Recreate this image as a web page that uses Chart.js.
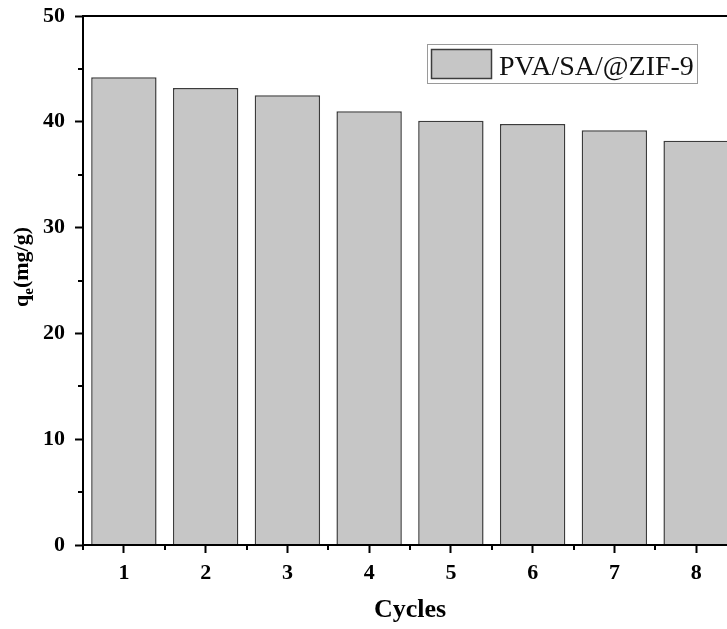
<!DOCTYPE html>
<html>
<head>
<meta charset="utf-8">
<script src="https://cdn.jsdelivr.net/npm/chart.js@4/dist/chart.umd.min.js"></script>
<style>
  html, body { margin: 0; padding: 0; background: #fff; overflow: hidden; }
  #wrap { width: 760px; height: 629px; }
</style>
</head>
<body>
<div id="wrap"><canvas id="c" width="760" height="629"></canvas></div>
<script>
// Adsorption capacity over repeated regeneration cycles
const cycles = ['1', '2', '3', '4', '5', '6', '7', '8'];
const qe = [44.2, 43.2, 42.5, 41.0, 40.1, 39.8, 39.2, 38.2];
const seriesName = 'PVA/SA/@ZIF-9';
const yTicks = [0, 10, 20, 30, 40, 50];

const SERIF = '"Liberation Serif", "Times New Roman", serif';
const BAR_FILL = '#c6c6c6';
const BAR_EDGE = '#3c3c3c';

// Frame line on top, minor ticks, axis titles and the boxed legend
const decorations = {
  id: 'decorations',
  afterDraw(chart) {
    const { ctx, chartArea: a, scales } = chart;
    const x = scales.x, y = scales.y;
    ctx.save();
    ctx.strokeStyle = '#000';
    ctx.lineWidth = 2;

    // top frame line
    ctx.beginPath();
    ctx.moveTo(a.left - 1, a.top);
    ctx.lineTo(a.right, a.top);
    ctx.stroke();

    // redraw bottom axis over the bars
    ctx.beginPath();
    ctx.moveTo(a.left - 1, a.bottom);
    ctx.lineTo(a.right, a.bottom);
    ctx.stroke();

    // y minor ticks halfway between labelled ticks
    for (let i = 0; i < yTicks.length - 1; i++) {
      const v = (yTicks[i] + yTicks[i + 1]) / 2;
      const py = Math.round(y.getPixelForValue(v));
      ctx.beginPath();
      ctx.moveTo(a.left - 5, py);
      ctx.lineTo(a.left, py);
      ctx.stroke();
    }
    // x minor ticks on category boundaries
    for (let i = 0; i <= cycles.length; i++) {
      const px = Math.round(x.getPixelForValue(i - 0.5));
      ctx.beginPath();
      ctx.moveTo(px, a.bottom);
      ctx.lineTo(px, a.bottom + 5);
      ctx.stroke();
    }

    // x axis title
    ctx.fillStyle = '#000';
    ctx.font = 'bold 26px ' + SERIF;
    ctx.textAlign = 'center';
    ctx.textBaseline = 'alphabetic';
    ctx.fillText('Cycles', (a.left + a.right) / 2, 617);

    // y axis title with subscript e
    ctx.save();
    ctx.translate(28, 267);
    ctx.rotate(-Math.PI / 2);
    const big = 'bold 22px ' + SERIF;
    const small = 'bold 15px ' + SERIF;
    ctx.font = big;
    const wq = ctx.measureText('q').width;
    const wRest = ctx.measureText('(mg/g)').width;
    ctx.font = small;
    const we = ctx.measureText('e').width;
    const total = wq + we + wRest;
    let cx = -total / 2;
    ctx.textAlign = 'left';
    ctx.font = big;
    ctx.fillText('q', cx, 0);
    cx += wq;
    ctx.font = small;
    ctx.fillText('e', cx, 5);
    cx += we;
    ctx.font = big;
    ctx.fillText('(mg/g)', cx, 0);
    ctx.restore();

    // legend box
    ctx.lineWidth = 1;
    ctx.strokeStyle = '#9a9a9a';
    ctx.strokeRect(427.5, 44.5, 270, 39);
    ctx.fillStyle = BAR_FILL;
    ctx.fillRect(431.5, 49.5, 60, 29);
    ctx.lineWidth = 1.5;
    ctx.strokeStyle = BAR_EDGE;
    ctx.strokeRect(431.5, 49.5, 60, 29);
    ctx.fillStyle = '#111';
    ctx.font = '28px ' + SERIF;
    ctx.textAlign = 'left';
    ctx.fillText(seriesName, 499, 75);

    ctx.restore();
  }
};

new Chart(document.getElementById('c'), {
  type: 'bar',
  data: {
    labels: cycles,
    datasets: [{
      label: seriesName,
      data: qe,
      backgroundColor: BAR_FILL,
      borderColor: BAR_EDGE,
      borderWidth: 1.5,
      barPercentage: 0.8,
      categoryPercentage: 1.0
    }]
  },
  options: {
    responsive: false,
    animation: false,
    devicePixelRatio: 1,
    layout: { padding: { left: 0, top: 16, right: 23, bottom: 0 } },
    plugins: { legend: { display: false }, tooltip: { enabled: false } },
    scales: {
      x: {
        afterFit(s) {
          s.height = 84;
          s.paddingLeft = 0; s.paddingRight = 0;
          s.paddingTop = 0; s.paddingBottom = 0;
        },
        grid: {
          offset: false,
          drawOnChartArea: false,
          drawTicks: true,
          tickLength: 8,
          tickWidth: 2,
          tickColor: '#000'
        },
        border: { display: true, color: '#000', width: 2 },
        ticks: {
          color: '#000',
          padding: 7,
          maxRotation: 0,
          font: { family: SERIF, size: 22, weight: 'bold' }
        }
      },
      y: {
        min: 0,
        max: 50,
        afterFit(s) {
          s.width = 83;
          s.paddingTop = 0; s.paddingBottom = 0;
          s.paddingLeft = 0; s.paddingRight = 0;
        },
        afterBuildTicks(s) { s.ticks = yTicks.map(v => ({ value: v })); },
        grid: {
          drawOnChartArea: false,
          drawTicks: true,
          tickLength: 8,
          tickWidth: 2,
          tickColor: '#000'
        },
        border: { display: true, color: '#000', width: 2 },
        ticks: {
          color: '#000',
          padding: 10,
          font: { family: SERIF, size: 22, weight: 'bold' }
        }
      }
    }
  },
  plugins: [decorations]
});
</script>
</body>
</html>
